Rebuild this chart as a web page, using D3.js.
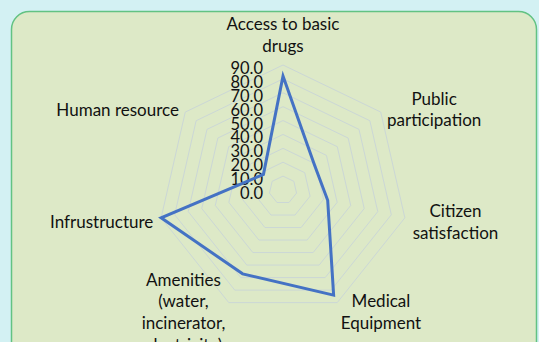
<!DOCTYPE html>
<html lang="en">
<head>
<meta charset="UTF-8">
<title>Radar</title>
<script src="https://d3js.org/d3.v7.min.js"></script>
</head>
<body style="margin: 0px; background: #d3f1f3;">
<script>
var categories = [
    ['Access to basic', 'drugs'],
    ['Public', 'participation'],
    ['Citizen', 'satisfaction'],
    ['Medical', 'Equipment'],
    ['Amenities', '(water,', 'incinerator,', 'electricity)'],
    ['Infrustructure'],
    ['Human resource']
];
var values = [82, 29, 33, 84, 67, 90, 18];
var ticks = [0, 10, 20, 30, 40, 50, 60, 70, 80, 90];

var width = 539, height = 342;
var cx = 283, cy = 190, R = 125;
var font = 'Lato, "Open Sans", sans-serif';

var svg = d3.select('body').append('svg')
    .attr('width', width)
    .attr('height', height)
    .style('display', 'block');

svg.append('rect')
    .attr('x', 11.5).attr('y', 11.5)
    .attr('width', 525).attr('height', 380)
    .attr('rx', 18)
    .attr('fill', '#dde9c7')
    .attr('stroke', '#62c283')
    .attr('stroke-width', 1.5);

var r = d3.scaleLinear().domain([0, 90]).range([0, R]);
var n = categories.length;
var angle = d3.scaleLinear().domain([0, n]).range([0, 2 * Math.PI]);

function pt(i, v) {
    var a = angle(i);
    return [cx + Math.sin(a) * r(v), cy - Math.cos(a) * r(v)];
}

var g = svg.append('g');

// rings
g.selectAll('polygon.ring')
    .data(ticks.slice(1))
    .enter().append('polygon')
    .attr('class', 'ring')
    .attr('points', function (t) {
        return d3.range(n).map(function (i) { return pt(i, t).join(','); }).join(' ');
    })
    .attr('fill', 'none')
    .attr('stroke', '#cbd7d6')
    .attr('stroke-width', 1);

// tick labels
g.selectAll('text.tick')
    .data(ticks)
    .enter().append('text')
    .attr('class', 'tick')
    .attr('x', cx - 20)
    .attr('y', function (t) { return cy - r(t) + 3; })
    .attr('dominant-baseline', 'central')
    .attr('text-anchor', 'end')
    .attr('font-family', font)
    .attr('font-size', '16.5px')
    .attr('fill', '#111')
    .text(function (t) { return t.toFixed(1); });

// series
var line = d3.line().curve(d3.curveLinearClosed);
g.append('path')
    .attr('d', line(values.map(function (v, i) { return pt(i, v); })))
    .attr('fill', 'none')
    .attr('stroke', '#4472c4')
    .attr('stroke-width', 3)
    .attr('stroke-linejoin', 'miter');

// category labels
var lh = 21.7;
categories.forEach(function (lines, i) {
    var a = angle(i);
    var dx = Math.sin(a), dy = -Math.cos(a);
    var p = [cx + dx * (R + 8), cy + dy * (R + 8)];
    var t = g.append('text')
        .attr('font-family', font)
        .attr('font-size', '17px')
        .attr('fill', '#111')
        .attr('text-anchor', 'middle');
    lines.forEach(function (s, k) {
        t.append('tspan').attr('x', 0).attr('y', k * lh).text(s);
    });
    var w = d3.max(t.selectAll('tspan').nodes(), function (d) { return d.getComputedTextLength(); });
    var h = lines.length * lh;
    var x, yc;
    if (Math.abs(dx) < 0.1) x = p[0];
    else if (dx > 0) x = p[0] + w / 2;
    else x = p[0] - w / 2;
    if (dy < -0.9) yc = p[1] - h / 2;
    else yc = p[1] + 3;
    var y0 = yc - h / 2 + lh / 2 + 5.5;
    t.attr('transform', 'translate(' + x + ',' + y0 + ')');
});
</script>
</body>
</html>
